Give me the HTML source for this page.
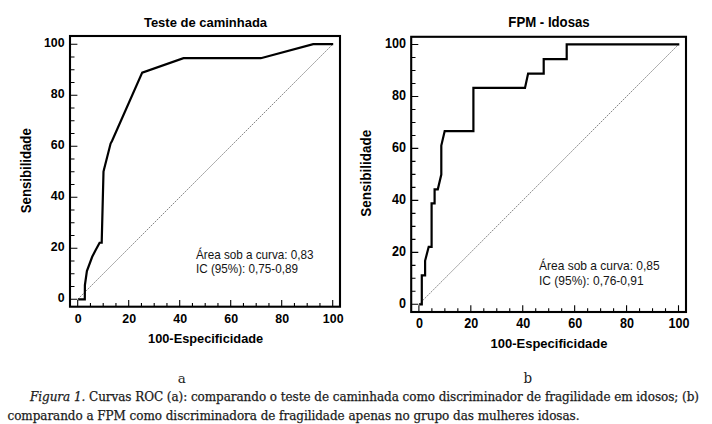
<!DOCTYPE html>
<html lang="pt"><head><meta charset="utf-8"><title>Figura 1. Curvas ROC</title>
<style>
html,body{margin:0;padding:0;background:#fff;width:712px;height:424px;overflow:hidden}
svg{display:block}
.b{font-family:"Liberation Sans",Arial,sans-serif;font-weight:bold;fill:#000}
.r{font-family:"Liberation Sans",Arial,sans-serif;fill:#141414}
.s{font-family:"DejaVu Serif","Liberation Serif",serif}
</style></head><body>
<svg width="712" height="424" viewBox="0 0 712 424">
<line x1="77.70" y1="299.30" x2="332.70" y2="44.30" stroke="#777" stroke-width="0.9" stroke-dasharray="1.8 1"/>
<path d="M77.70 306.70V300.10M70.00 299.30H77.40M90.45 306.70V303.10M70.00 286.55H74.50M103.20 306.70V303.10M70.00 273.80H74.50M115.95 306.70V303.10M70.00 261.05H74.50M128.70 306.70V300.10M70.00 248.30H77.40M141.45 306.70V303.10M70.00 235.55H74.50M154.20 306.70V303.10M70.00 222.80H74.50M166.95 306.70V303.10M70.00 210.05H74.50M179.70 306.70V300.10M70.00 197.30H77.40M192.45 306.70V303.10M70.00 184.55H74.50M205.20 306.70V303.10M70.00 171.80H74.50M217.95 306.70V303.10M70.00 159.05H74.50M230.70 306.70V300.10M70.00 146.30H77.40M243.45 306.70V303.10M70.00 133.55H74.50M256.20 306.70V303.10M70.00 120.80H74.50M268.95 306.70V303.10M70.00 108.05H74.50M281.70 306.70V300.10M70.00 95.30H77.40M294.45 306.70V303.10M70.00 82.55H74.50M307.20 306.70V303.10M70.00 69.80H74.50M319.95 306.70V303.10M70.00 57.05H74.50M332.70 306.70V300.10M70.00 44.30H77.40" stroke="#000" stroke-width="1.1" fill="none"/>
<rect x="70" y="36" width="270" height="270.7" fill="none" stroke="#000" stroke-width="2.1"/>
<path d="M78.20 299.30 L84.80 299.30 L84.90 285.20 L86.90 271.00 L92.20 256.80 L95.30 250.70 L99.60 242.70 L101.70 242.60 L103.50 171.60 L104.00 169.50 L110.60 143.60 L112.00 141.00 L142.20 72.60 L183.50 58.20 L260.80 58.20 L313.20 44.10 L333.20 44.10" fill="none" stroke="#000" stroke-width="2.2" stroke-linejoin="miter" stroke-miterlimit="3"/>
<text transform="translate(78.20 322.60) scale(1 1.09)" text-anchor="middle" class="b" font-size="12.4">0</text>
<text transform="translate(64.60 301.70) scale(1 1.09)" text-anchor="end" class="b" font-size="12.4">0</text>
<text transform="translate(129.20 322.60) scale(1 1.09)" text-anchor="middle" class="b" font-size="12.4">20</text>
<text transform="translate(64.60 250.70) scale(1 1.09)" text-anchor="end" class="b" font-size="12.4">20</text>
<text transform="translate(180.20 322.60) scale(1 1.09)" text-anchor="middle" class="b" font-size="12.4">40</text>
<text transform="translate(64.60 199.70) scale(1 1.09)" text-anchor="end" class="b" font-size="12.4">40</text>
<text transform="translate(231.20 322.60) scale(1 1.09)" text-anchor="middle" class="b" font-size="12.4">60</text>
<text transform="translate(64.60 148.70) scale(1 1.09)" text-anchor="end" class="b" font-size="12.4">60</text>
<text transform="translate(282.20 322.60) scale(1 1.09)" text-anchor="middle" class="b" font-size="12.4">80</text>
<text transform="translate(64.60 97.70) scale(1 1.09)" text-anchor="end" class="b" font-size="12.4">80</text>
<text transform="translate(333.20 322.60) scale(1 1.09)" text-anchor="middle" class="b" font-size="12.4">100</text>
<text transform="translate(64.60 46.70) scale(1 1.09)" text-anchor="end" class="b" font-size="12.4">100</text>
<text transform="translate(205.50 27.00) scale(1 1.05)" text-anchor="middle" class="b" font-size="13">Teste de caminhada</text>
<text transform="translate(205.60 342.80) scale(1 1.05)" text-anchor="middle" class="b" font-size="12.8">100-Especificidade</text>
<text transform="translate(30.5 170.75) rotate(-90) scale(1 1.05)" text-anchor="middle" class="b" font-size="13.2">Sensibilidade</text>
<text transform="translate(196.00 258.80) scale(1 1.05)" class="r" font-size="11.7">Área sob a curva: 0,83</text>
<text transform="translate(196.00 272.90) scale(1 1.05)" class="r" font-size="11.7">IC (95%): 0,75-0,89</text>
<line x1="418.90" y1="304.30" x2="678.50" y2="44.50" stroke="#777" stroke-width="0.9" stroke-dasharray="1.8 1"/>
<path d="M418.90 312.00V305.20M411.20 304.30H418.30M431.88 312.00V308.20M411.20 291.31H415.50M444.86 312.00V308.20M411.20 278.32H415.50M457.84 312.00V308.20M411.20 265.33H415.50M470.82 312.00V305.20M411.20 252.34H418.30M483.80 312.00V308.20M411.20 239.35H415.50M496.78 312.00V308.20M411.20 226.36H415.50M509.76 312.00V308.20M411.20 213.37H415.50M522.74 312.00V305.20M411.20 200.38H418.30M535.72 312.00V308.20M411.20 187.39H415.50M548.70 312.00V308.20M411.20 174.40H415.50M561.68 312.00V308.20M411.20 161.41H415.50M574.66 312.00V305.20M411.20 148.42H418.30M587.64 312.00V308.20M411.20 135.43H415.50M600.62 312.00V308.20M411.20 122.44H415.50M613.60 312.00V308.20M411.20 109.45H415.50M626.58 312.00V305.20M411.20 96.46H418.30M639.56 312.00V308.20M411.20 83.47H415.50M652.54 312.00V308.20M411.20 70.48H415.50M665.52 312.00V308.20M411.20 57.49H415.50M678.50 312.00V305.20M411.20 44.50H418.30" stroke="#000" stroke-width="1.1" fill="none"/>
<rect x="411.2" y="36.8" width="274.8" height="275.2" fill="none" stroke="#000" stroke-width="2.1"/>
<path d="M419.20 304.30 L421.80 304.30 L421.80 275.40 L425.10 275.40 L425.10 260.80 L428.70 246.80 L431.60 246.80 L431.60 203.40 L434.60 203.40 L434.60 189.30 L437.80 189.30 L441.30 174.60 L441.30 145.60 L444.70 131.10 L473.40 131.10 L473.40 87.90 L525.00 87.90 L528.10 73.60 L543.70 73.60 L543.70 59.20 L566.70 59.20 L566.70 44.40 L679.30 44.40" fill="none" stroke="#000" stroke-width="2.2" stroke-linejoin="miter" stroke-miterlimit="3"/>
<text transform="translate(419.40 327.80) scale(1 1.09)" text-anchor="middle" class="b" font-size="12.6">0</text>
<text transform="translate(405.90 307.50) scale(1 1.09)" text-anchor="end" class="b" font-size="12.6">0</text>
<text transform="translate(471.32 327.80) scale(1 1.09)" text-anchor="middle" class="b" font-size="12.6">20</text>
<text transform="translate(405.90 255.54) scale(1 1.09)" text-anchor="end" class="b" font-size="12.6">20</text>
<text transform="translate(523.24 327.80) scale(1 1.09)" text-anchor="middle" class="b" font-size="12.6">40</text>
<text transform="translate(405.90 203.58) scale(1 1.09)" text-anchor="end" class="b" font-size="12.6">40</text>
<text transform="translate(575.16 327.80) scale(1 1.09)" text-anchor="middle" class="b" font-size="12.6">60</text>
<text transform="translate(405.90 151.62) scale(1 1.09)" text-anchor="end" class="b" font-size="12.6">60</text>
<text transform="translate(627.08 327.80) scale(1 1.09)" text-anchor="middle" class="b" font-size="12.6">80</text>
<text transform="translate(405.90 99.66) scale(1 1.09)" text-anchor="end" class="b" font-size="12.6">80</text>
<text transform="translate(679.00 327.80) scale(1 1.09)" text-anchor="middle" class="b" font-size="12.6">100</text>
<text transform="translate(405.90 47.70) scale(1 1.09)" text-anchor="end" class="b" font-size="12.6">100</text>
<text transform="translate(549.00 27.20) scale(1 1.05)" text-anchor="middle" class="b" font-size="13.2">FPM - Idosas</text>
<text transform="translate(549.00 348.00) scale(1 1.05)" text-anchor="middle" class="b" font-size="13">100-Especificidade</text>
<text transform="translate(371 173.25) rotate(-90) scale(1 1.05)" text-anchor="middle" class="b" font-size="13.5">Sensibilidade</text>
<text transform="translate(539.00 270.20) scale(1 1.05)" class="r" font-size="12">Área sob a curva: 0,85</text>
<text transform="translate(539.00 284.60) scale(1 1.05)" class="r" font-size="12">IC (95%): 0,76-0,91</text>
<g class="s" fill="#1b1b1b" stroke="#1b1b1b" stroke-width="0.25">
<text x="181.7" y="383" text-anchor="middle" font-size="13.5" stroke="none">a</text>
<text transform="translate(527.8 382.8) scale(1 1.15)" text-anchor="middle" font-size="13.5" stroke="none">b</text>
<text x="30" y="400.9" font-size="12" textLength="669" lengthAdjust="spacing"><tspan font-style="italic">Figura 1.</tspan> Curvas ROC (a): comparando o teste de caminhada como discriminador de fragilidade em idosos; (b)</text>
<text x="7.5" y="420.0" font-size="12" textLength="572" lengthAdjust="spacing">comparando a FPM como discriminadora de fragilidade apenas no grupo das mulheres idosas.</text>
</g>
</svg>
</body></html>
